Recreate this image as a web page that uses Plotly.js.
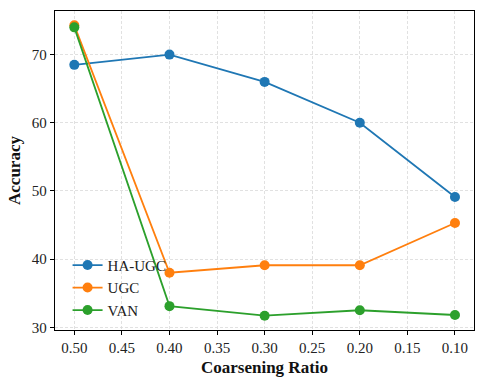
<!DOCTYPE html>
<html><head><meta charset="utf-8">
<script src="https://cdn.plot.ly/plotly-3.0.1.min.js"></script>
<style>html,body{margin:0;padding:0;background:#fff}#chart{width:484px;height:384px}</style>
</head><body><div id="chart"></div>
<script>
const ratios = [0.50, 0.40, 0.30, 0.20, 0.10];
const haUgc = [68.5, 70.0, 66.0, 60.0, 49.1];
const ugc = [74.3, 38.0, 39.1, 39.1, 45.3];
const van = [74.0, 33.1, 31.7, 32.5, 31.8];
const seriesNames = ['HA-UGC', 'UGC', 'VAN'];
const colors = ['#1f77b4', '#ff7f0e', '#2ca02c'];
const xTicks = [0.50, 0.45, 0.40, 0.35, 0.30, 0.25, 0.20, 0.15, 0.10];
const xTickText = ['0.50','0.45','0.40','0.35','0.30','0.25','0.20','0.15','0.10'];
const font = 'Liberation Serif, DejaVu Serif, serif';

const traces = [haUgc, ugc, van].map((ys, i) => ({
  x: ratios, y: ys, name: seriesNames[i], type: 'scatter', mode: 'lines+markers',
  line: {color: colors[i], width: 1.8},
  marker: {color: colors[i], size: 10}
}));

const axisCommon = {
  showline: true, linecolor: '#000', linewidth: 1.2, mirror: true,
  ticks: 'outside', ticklen: 4, tickwidth: 1, tickcolor: '#000',
  showgrid: true, gridcolor: '#d9d9d9', gridwidth: 0.8, griddash: '3px,2px',
  zeroline: false, tickfont: {family: font, size: 15, color: '#222'}
};

const layout = {
  width: 484, height: 384,
  margin: {l: 55, r: 10, t: 11, b: 54},
  paper_bgcolor: '#fff', plot_bgcolor: '#fff',
  showlegend: true,
  legend: {x: 0.03, y: 0.01, xanchor: 'left', yanchor: 'bottom', bgcolor: 'rgba(0,0,0,0)',
    font: {family: font, size: 15, color: '#222'}, tracegroupgap: 0},
  xaxis: Object.assign({}, axisCommon, {
    range: [0.5203, 0.080], tickvals: xTicks, ticktext: xTickText,
    title: {text: '<b>Coarsening Ratio</b>', font: {family: font, size: 17, color: '#111'}, standoff: 5}
  }),
  yaxis: Object.assign({}, axisCommon, {
    range: [29.6, 76.4], tickvals: [30, 40, 50, 60, 70],
    title: {text: '<b>Accuracy</b>', font: {family: font, size: 17, color: '#111'}, standoff: 6}
  })
};

Plotly.newPlot('chart', traces, layout, {displayModeBar: false, staticPlot: true});
</script></body></html>
